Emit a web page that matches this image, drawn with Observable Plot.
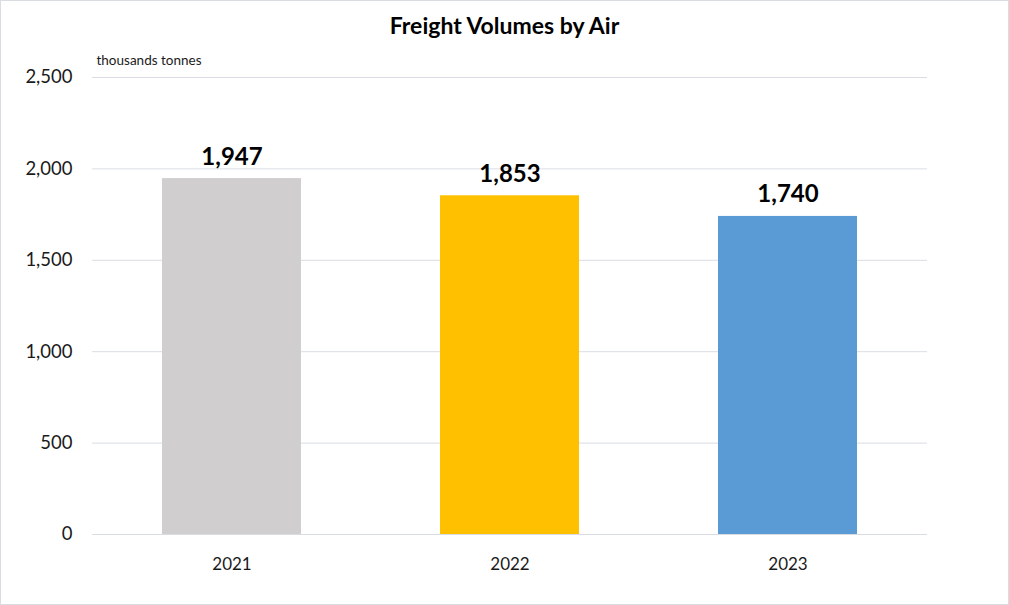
<!DOCTYPE html>
<html><head><meta charset="utf-8">
<script src="https://cdn.jsdelivr.net/npm/d3@7"></script>
<script src="https://cdn.jsdelivr.net/npm/@observablehq/plot@0.6"></script>
<style>
html,body{margin:0;padding:0;background:#fff;}
#wrap{position:relative;width:1009px;height:605px;overflow:hidden;}
#border{position:absolute;left:0;top:0;width:1009px;height:605px;box-sizing:border-box;border:1px solid #d9dde3;pointer-events:none;}
#chart svg{display:block;}
</style>
</head><body>
<div id="wrap"><div id="chart"></div><div id="border"></div></div>
<script>
const title = "Freight Volumes by Air";
const unitLabel = "thousands tonnes";
const years = ["2021", "2022", "2023"];
const values = [1947, 1853, 1740];
const colors = ["#d0cece", "#ffc000", "#5b9bd5"];
const yTicks = [0, 500, 1000, 1500, 2000, 2500];

const data = years.map((year, i) => ({year, value: values[i]}));
const fmt = d3.format(",");

const chart = Plot.plot({
  width: 1009,
  height: 605,
  marginTop: 77,
  marginBottom: 71,
  marginLeft: 92,
  marginRight: 82,
  style: {fontFamily: "Lato, 'Open Sans', sans-serif", color: "#1a1a1a", background: "#fff"},
  x: {domain: years, padding: 0.5, paddingOuter: 0.25, label: null},
  y: {domain: [0, 2500], label: null},
  color: {domain: years, range: colors},
  marks: [
    Plot.gridY(yTicks, {stroke: "#d9dde3", strokeOpacity: 1, strokeWidth: 1}),
    Plot.barY(data, {x: "year", y: "value", fill: "year"}),
    Plot.text(data, {x: "year", y: "value", text: d => fmt(d.value), lineAnchor: "bottom", dy: -14, fontSize: 24, fontWeight: "bold", fill: "#000"}),
    Plot.axisY(yTicks, {tickSize: 0, tickPadding: 20, tickFormat: fmt, fontSize: 18.5, label: null}),
    Plot.axisX({tickSize: 0, tickPadding: 23, fontSize: 17, label: null}),
    Plot.text([title], {text: d => d, frameAnchor: "top", lineAnchor: "bottom", dx: -5.5, dy: -44, fontSize: 23, fontWeight: "bold", fill: "#000"}),
    Plot.text([unitLabel], {text: d => d, frameAnchor: "top-left", textAnchor: "start", lineAnchor: "bottom", dx: 4, dy: -13, fontSize: 13.5, fill: "#1a1a1a"})
  ]
});
document.getElementById("chart").appendChild(chart);
</script>
</body></html>
